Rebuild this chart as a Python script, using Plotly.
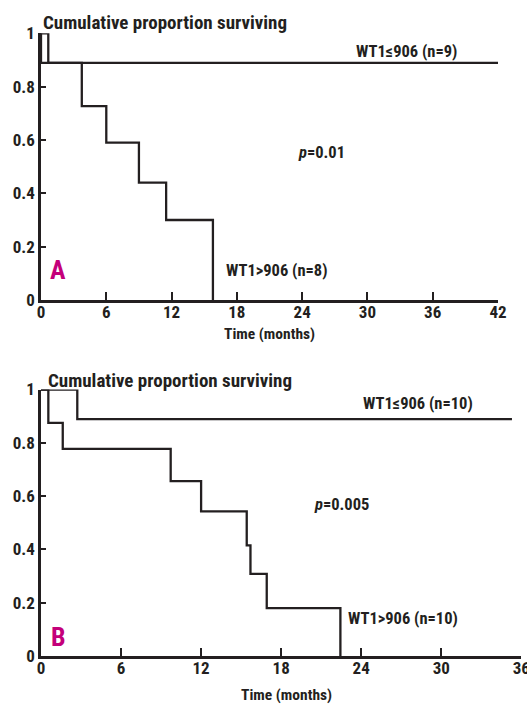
import plotly.graph_objects as go

# Panel A data (time in months, cumulative proportion surviving)
a_low_t = [0, 0, 3.75, 6.0, 9.0, 11.5, 15.8]
a_low_s = [1, 0.889, 0.727, 0.59, 0.44, 0.30, 0]
a_high_t = [0, 0.67, 42]
a_high_s = [1, 0.889, 0.889]

# Panel B data
b_low_t = [0, 0.55, 1.63, 9.72, 12.0, 15.42, 15.7, 16.92, 22.44]
b_low_s = [1, 0.875, 0.777, 0.656, 0.543, 0.415, 0.308, 0.18, 0]
b_high_t = [0, 2.72, 35.3]
b_high_s = [1, 0.889, 0.889]

a_xticks = [0, 6, 12, 18, 24, 30, 36, 42]
b_xticks = [0, 6, 12, 18, 24, 30, 36]
y_ticks = [0, 0.2, 0.4, 0.6, 0.8, 1]
y_ticktext = ["0", "0.2", "0.4", "0.6", "0.8", "1"]

W, H = 527, 708
INK = "#231f20"
MAG = "#c4007a"
FONT = "Roboto Condensed, Liberation Sans Narrow, sans-serif"

def px(x):
    return x / W

def py(y):
    return (H - y) / H

fig = go.Figure()
for t, s, xa, ya in [
    (a_high_t, a_high_s, "x", "y"),
    (a_low_t, a_low_s, "x", "y"),
    (b_high_t, b_high_s, "x2", "y2"),
    (b_low_t, b_low_s, "x2", "y2"),
]:
    fig.add_trace(go.Scatter(x=t, y=s, mode="lines", line=dict(shape="hv", color=INK, width=2.3),
                             xaxis=xa, yaxis=ya, showlegend=False, hoverinfo="skip"))

tickfont = dict(family=FONT, size=17, color=INK, weight="bold")
common_x = dict(showline=True, linecolor=INK, linewidth=2.6, ticks="inside", ticklen=8,
                tickwidth=2.4, tickcolor=INK, showgrid=False, zeroline=False, tickfont=tickfont,
                automargin=False, ticklabeloverflow="allow", ticklabelstandoff=-5)
common_y = dict(showline=True, linecolor=INK, linewidth=2.6, ticks="inside", ticklen=5,
                tickwidth=2.4, tickcolor=INK, showgrid=False, zeroline=False, tickfont=tickfont,
                range=[0, 1], tickvals=y_ticks, ticktext=y_ticktext, automargin=False)

fig.update_layout(
    width=W, height=H, margin=dict(l=0, r=0, t=0, b=0),
    plot_bgcolor="white", paper_bgcolor="white",
    xaxis=dict(domain=[px(41), px(498)], range=[0, 42], tickvals=a_xticks, anchor="y", **common_x),
    yaxis=dict(domain=[py(300), py(33.3)], anchor="x", **common_y),
    xaxis2=dict(domain=[px(41), px(521.3)], range=[0, 36], tickvals=b_xticks, anchor="y2", **common_x),
    yaxis2=dict(domain=[py(656), py(389.5)], anchor="x2", **common_y),
)

def ann(text, x, y, xanchor="left", size=16, color=INK):
    fig.add_annotation(text=text, x=px(x), y=py(y), xref="paper", yref="paper",
                       xanchor=xanchor, yanchor="middle", showarrow=False,
                       font=dict(family=FONT, size=size, color=color, weight="bold"))

# Panel A texts
ann("Cumulative proportion surviving", 41, 23, size=19)
ann("WT1≤906 (n=9)", 354, 52, size=16.5)
ann("<i>p</i>=0.01", 296, 152, size=16.5)
ann("WT1>906 (n=8)", 224, 270, size=16.5)
ann("A", 48, 270, size=26, color=MAG)
ann("Time (months)", 317, 334, xanchor="right", size=15.5)

# Panel B texts
ann("Cumulative proportion surviving", 46, 380, size=19)
ann("WT1≤906 (n=10)", 361, 403, size=16.5)
ann("<i>p</i>=0.005", 312, 505, size=16.5)
ann("WT1>906 (n=10)", 346, 618, size=16.5)
ann("B", 49, 637, size=26, color=MAG)
ann("Time (months)", 334, 695, xanchor="right", size=15.5)

fig.write_html("out.html", config={"displayModeBar": False},
               post_script="document.body.style.margin='0';document.body.style.padding='0';document.documentElement.style.overflow='hidden';")
